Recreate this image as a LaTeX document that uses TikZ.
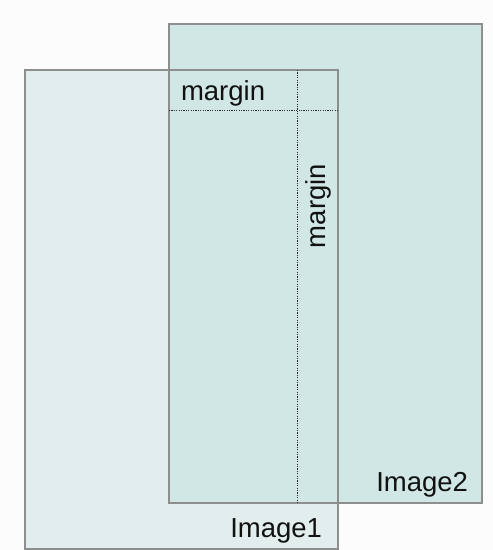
\documentclass[tikz,border=0pt]{standalone}
\usepackage{fontspec}
\setmainfont{Liberation Sans}
\definecolor{bgc}{HTML}{FCFCFC}
\definecolor{fillone}{HTML}{E2EEEE}
\definecolor{filltwo}{HTML}{D0E7E5}
\definecolor{edgec}{HTML}{8E8E8E}
\definecolor{dotc}{HTML}{2A2A2A}
\definecolor{txtc}{HTML}{111111}
\begin{document}
\begin{tikzpicture}[x=1pt,y=-1pt,
  imgbox/.style={rectangle, inner sep=0pt, outer sep=0pt, anchor=north west},
  edge/.style={draw=edgec, line width=1.5pt},
  guide/.style={draw=dotc, line width=1pt, dash pattern=on 1.2pt off 1.2pt},
  lbl/.style={inner sep=0pt, outer sep=0pt, text=txtc, font=\fontsize{27.5}{33}\selectfont}]
\fill[bgc] (0,0) rectangle (493,550);
\useasboundingbox (0,0) rectangle (493,550);
% image rectangles (fills)
\node[imgbox, fill=fillone, minimum width=313pt, minimum height=479pt] (img1) at (25,70) {};
\node[imgbox, fill=filltwo, minimum width=313pt, minimum height=479pt] (img2) at (169,24) {};
% borders
\draw[edge] (img1.north west) rectangle (img1.south east);
\draw[edge] (img2.north west) rectangle (img2.south east);
% margin guides
\coordinate (hl) at (img2.west |- 0,110);
\coordinate (hr) at (img1.east |- 0,110);
\coordinate (vt) at (297,0 |- img1.north);
\coordinate (vb) at (297,0 |- img2.south);
\draw[guide] (hl) -- (hr);
\draw[guide] (vt) -- (vb);
% labels
\node[lbl, anchor=base west] (m1) at (181,100.5) {margin};
\node[lbl, anchor=base west, rotate=90] (m2) at (325,248) {margin};
\node[lbl, anchor=base east] (l1) at (322,537) {Image1};
\node[lbl, anchor=base east] (l2) at (468,491) {Image2};
\end{tikzpicture}
\end{document}
